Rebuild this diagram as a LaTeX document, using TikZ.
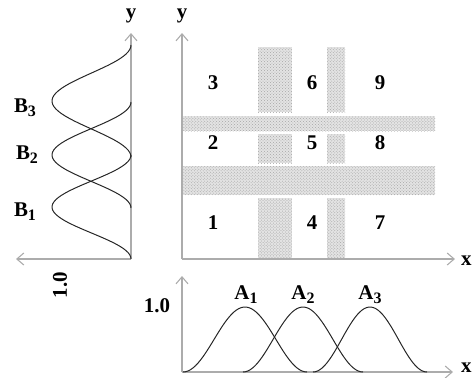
\documentclass[tikz,border=0pt]{standalone}
\usepackage{fontspec}
\setmainfont{Liberation Serif}
\usetikzlibrary{positioning,patterns,arrows.meta}

\newcommand{\lowsub}[1]{\raisebox{-0.4ex}{\fontsize{16}{16}\selectfont #1}}

\tikzset{
  axis/.style={draw=gray!65, line width=1.3pt, -{Straight Barb[length=7pt,width=12pt,line width=1.1pt]}},
  band/.style={fill=gray!22, postaction={pattern=crosshatch dots, pattern color=gray!70}},
  curve/.style={draw=black!85, line width=1pt, smooth, samples=50},
  lbl/.style={font=\fontsize{21}{23}\selectfont\bfseries}
}

\begin{document}
\begin{tikzpicture}[x=1bp,y=-1bp]
    \useasboundingbox (0,0) rectangle (474,377);

    % shaded bands of the grid
    \path[band] (182,116) rectangle (435,131);
    \path[band] (182,166) rectangle (435,195);
    \path[band] (258,47) rectangle (292,112);
    \path[band] (258,134) rectangle (292,163);
    \path[band] (258,198) rectangle (292,259);
    \path[band] (327,47) rectangle (345,112);
    \path[band] (327,134) rectangle (345,163);
    \path[band] (327,198) rectangle (345,259);

    % axes
    \coordinate (o) at (182,259);
    \coordinate (otop) at (182,33);
    \coordinate (oright) at (455,259);
    \coordinate (lo) at (131,259);
    \coordinate (ltop) at (131,33);
    \coordinate (lleft) at (16,259);
    \coordinate (bo) at (182,372);
    \coordinate (btop) at (182,276);
    \coordinate (bright) at (453,372);
    \draw[axis] (o) -- (otop);
    \draw[axis] (o) -- (oright);
    \draw[axis] (lo) -- (ltop);
    \draw[axis] (lo) -- (lleft);
    \draw[axis] (bo) -- (btop);
    \draw[axis] (bo) -- (bright);

    \node[lbl] (ymain) at (182,16) {y};
    \node[lbl] (yleft) at (131,16) {y};
    \node[lbl,anchor=west,inner sep=1pt] (xmain) at (460,261) {x};
    \node[lbl,anchor=west,inner sep=1pt] (xbot) at (460,368) {x};
    \node[lbl,rotate=90] (oneleft) at (60,285) {1.0};
    \node[lbl] (onebot) at (157,306) {1.0};

    % membership curves B
    \draw[curve] plot[domain=155:259] ({131-79*(1+cos(180*(\x-207)/52))/2}, \x);
    \draw[curve] plot[domain=102:208] ({131-79*(1+cos(180*(\x-155)/53))/2}, \x);
    \draw[curve] plot[domain=45:157] ({131-79*(1+cos(180*(\x-101)/56))/2}, \x);
    \node[lbl] (b3) at (25,108) {B\lowsub{3}};
    \node[lbl] (b2) at (27,155) {B\lowsub{2}};
    \node[lbl] (b1) at (25,212) {B\lowsub{1}};

    % membership curves A
    \draw[curve] plot[domain=183:307] (\x, {372-65*(1+cos(180*(\x-245)/62))/2});
    \draw[curve] plot[domain=243:363] (\x, {372-65*(1+cos(180*(\x-303)/60))/2});
    \draw[curve] plot[domain=313:427] (\x, {372-65*(1+cos(180*(\x-370)/57))/2});
    \node[lbl] (a1) at (246,295) {A\lowsub{1}};
    \node[lbl] (a2) at (303,295) {A\lowsub{2}};
    \node[lbl] (a3) at (370,295) {A\lowsub{3}};

    % cell numbers
    \node[lbl] (n3) at (213,83) {3};
    \node[lbl] (n6) at (312,83) {6};
    \node[lbl] (n9) at (380,83) {9};
    \node[lbl] (n2) at (213,143) {2};
    \node[lbl] (n5) at (312,143) {5};
    \node[lbl] (n8) at (380,143) {8};
    \node[lbl] (n1) at (213,223) {1};
    \node[lbl] (n4) at (312,223) {4};
    \node[lbl] (n7) at (380,223) {7};
\end{tikzpicture}
\end{document}
